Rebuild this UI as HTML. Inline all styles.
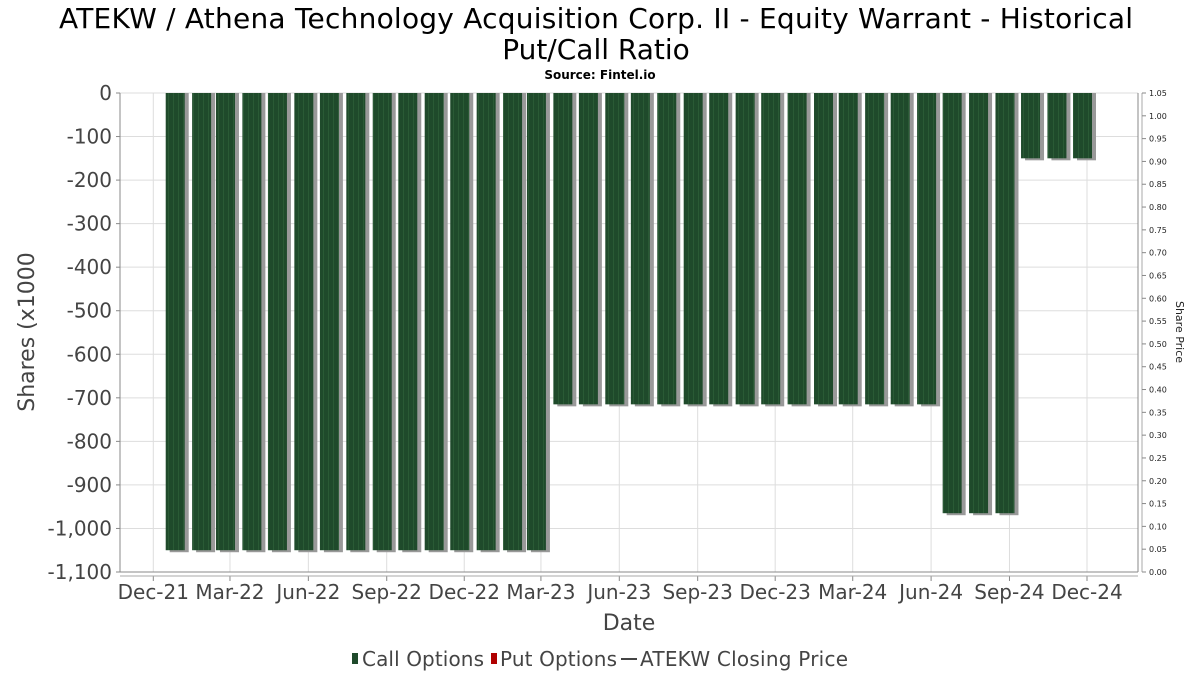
<!DOCTYPE html>
<html><head><meta charset="utf-8"><style>
body{margin:0;background:#fff;}
svg text{font-family:"DejaVu Sans","Liberation Sans",sans-serif;}
</style></head><body>
<svg id="c" width="1200" height="675" xmlns="http://www.w3.org/2000/svg">
<defs>
<pattern id="stripe" width="5" height="10" patternUnits="userSpaceOnUse">
<rect width="5" height="10" fill="#1f4a2b"/><rect x="3" width="1" height="10" fill="#2a5a35"/>
</pattern>
</defs>
<text x="596" y="28" font-size="28" text-anchor="middle" fill="#000" textLength="1074">ATEKW / Athena Technology Acquisition Corp. II - Equity Warrant - Historical</text>
<text x="596" y="59" font-size="28" text-anchor="middle" fill="#000">Put/Call Ratio</text>
<text x="600" y="79" font-size="12" font-weight="bold" text-anchor="middle" fill="#000">Source: Fintel.io</text>
<g id="grid"></g>
<g id="bars"></g>
<g id="axes"></g>
<text x="0" y="0" transform="translate(34,332) rotate(-90)" font-size="22" text-anchor="middle" fill="#444">Shares (x1000</text>
<text x="0" y="0" transform="translate(1176,332) rotate(90)" font-size="11" text-anchor="middle" fill="#222">Share Price</text>
<text x="629" y="630" font-size="22" text-anchor="middle" fill="#444">Date</text>
<g>
<rect x="352" y="653" width="6" height="11" fill="#1f4a2b"/>
<text x="362" y="666" font-size="20" fill="#444" textLength="122">Call Options</text>
<rect x="491" y="653" width="6" height="11" fill="#b00000"/>
<text x="500" y="666" font-size="20" fill="#444" textLength="117">Put Options</text>
<line x1="621" y1="659" x2="637" y2="659" stroke="#444" stroke-width="2"/>
<text x="640" y="666" font-size="20" fill="#444" textLength="208">ATEKW Closing Price</text>
</g>
</svg>
<script>
const months = ["2022-01","2022-02","2022-03","2022-04","2022-05","2022-06","2022-07","2022-08","2022-09","2022-10","2022-11","2022-12","2023-01","2023-02","2023-03","2023-04","2023-05","2023-06","2023-07","2023-08","2023-09","2023-10","2023-11","2023-12","2024-01","2024-02","2024-03","2024-04","2024-05","2024-06","2024-07","2024-08","2024-09","2024-10","2024-11","2024-12"];
const callValues = [-1050,-1050,-1050,-1050,-1050,-1050,-1050,-1050,-1050,-1050,-1050,-1050,-1050,-1050,-1050,-715,-715,-715,-715,-715,-715,-715,-715,-715,-715,-715,-715,-715,-715,-715,-965,-965,-965,-150,-150,-150];
const yTicks = [0,-100,-200,-300,-400,-500,-600,-700,-800,-900,-1000,-1100];
const xTickLabels = ["Dec-21","Mar-22","Jun-22","Sep-22","Dec-22","Mar-23","Jun-23","Sep-23","Dec-23","Mar-24","Jun-24","Sep-24","Dec-24"];
const xTickDates = ["2021-12-01","2022-03-01","2022-06-01","2022-09-01","2022-12-01","2023-03-01","2023-06-01","2023-09-01","2023-12-01","2024-03-01","2024-06-01","2024-09-01","2024-12-01"];
const rightTicks = [0,0.05,0.1,0.15,0.2,0.25,0.3,0.35,0.4,0.45,0.5,0.55,0.6,0.65,0.7,0.75,0.8,0.85,0.9,0.95,1.0,1.05];

const L=120,R=1138,T=93,B=572;
const d0=Date.parse("2021-12-01"),d1=Date.parse("2024-12-01"),p0=153.3,p1=1087;
function x(ds){return p0+(Date.parse(ds)-d0)/(d1-d0)*(p1-p0);}
function y(v){return T+(0-v)/1100*(B-T);}
function yr(v){return B+(T-B)*v/1.05;}
const NS="http://www.w3.org/2000/svg";
function mk(tag,attrs,parent){const e=document.createElementNS(NS,tag);for(const k in attrs)e.setAttribute(k,attrs[k]);parent.appendChild(e);return e;}
const grid=document.getElementById('grid'),bars=document.getElementById('bars'),axes=document.getElementById('axes');
mk('rect',{x:L,y:T,width:R-L,height:B-T,fill:'#fff',stroke:'none'},grid);
yTicks.forEach(v=>{
  const g=mk('line',{x1:L,x2:R,y1:y(v),y2:y(v),stroke:'#ddd','stroke-width':1},grid);
  
  
  mk('line',{x1:L-4,x2:L,y1:y(v),y2:y(v),stroke:'#888'},axes);
  const t=mk('text',{x:L-8,y:y(v)+7,'font-size':20,'text-anchor':'end',fill:'#444'},axes);
  t.textContent=v===0?"0":v.toLocaleString('en-US');
  
  
});
xTickDates.forEach((d,i)=>{
  const g=mk('line',{x1:x(d),x2:x(d),y1:T,y2:B,stroke:'#ddd'},grid);
  
  
  mk('line',{x1:x(d),x2:x(d),y1:B+4,y2:B+9,stroke:'#888'},axes);
  const t=mk('text',{x:x(d),y:B+27,'font-size':20,'text-anchor':'middle',fill:'#444'},axes);
  t.textContent=xTickLabels[i];
  
  
});
months.forEach((m,i)=>{
  const cx=x(m+"-01")-4,v=callValues[i];
  const s=mk('rect',{x:cx-9+3,y:y(0),width:19,height:y(v)-y(0)+2,fill:'#999'},bars);
  
  
  const b=mk('rect',{x:cx-10,y:y(0),width:19,height:y(v)-y(0),fill:'url(#stripe)'},bars);
  
  
});
mk('line',{x1:L,x2:L,y1:T,y2:B,stroke:'#888'},axes);
mk('line',{x1:L,x2:R,y1:B,y2:B,stroke:'#888'},axes);
mk('line',{x1:L,x2:R,y1:B+4,y2:B+4,stroke:'#aaa'},axes);
mk('line',{x1:R,x2:R,y1:T,y2:B,stroke:'#888'},axes);
mk('line',{x1:R+4,x2:R+4,y1:T,y2:B,stroke:'#aaa'},axes);
rightTicks.forEach(v=>{
  mk('line',{x1:R+4,x2:R+8,y1:yr(v),y2:yr(v),stroke:'#888'},axes);
  const t=mk('text',{x:R+11,y:yr(v)+3,'font-size':8,fill:'#222'},axes);
  t.textContent=v.toFixed(2);
  
  
});
</script>
</body></html>
